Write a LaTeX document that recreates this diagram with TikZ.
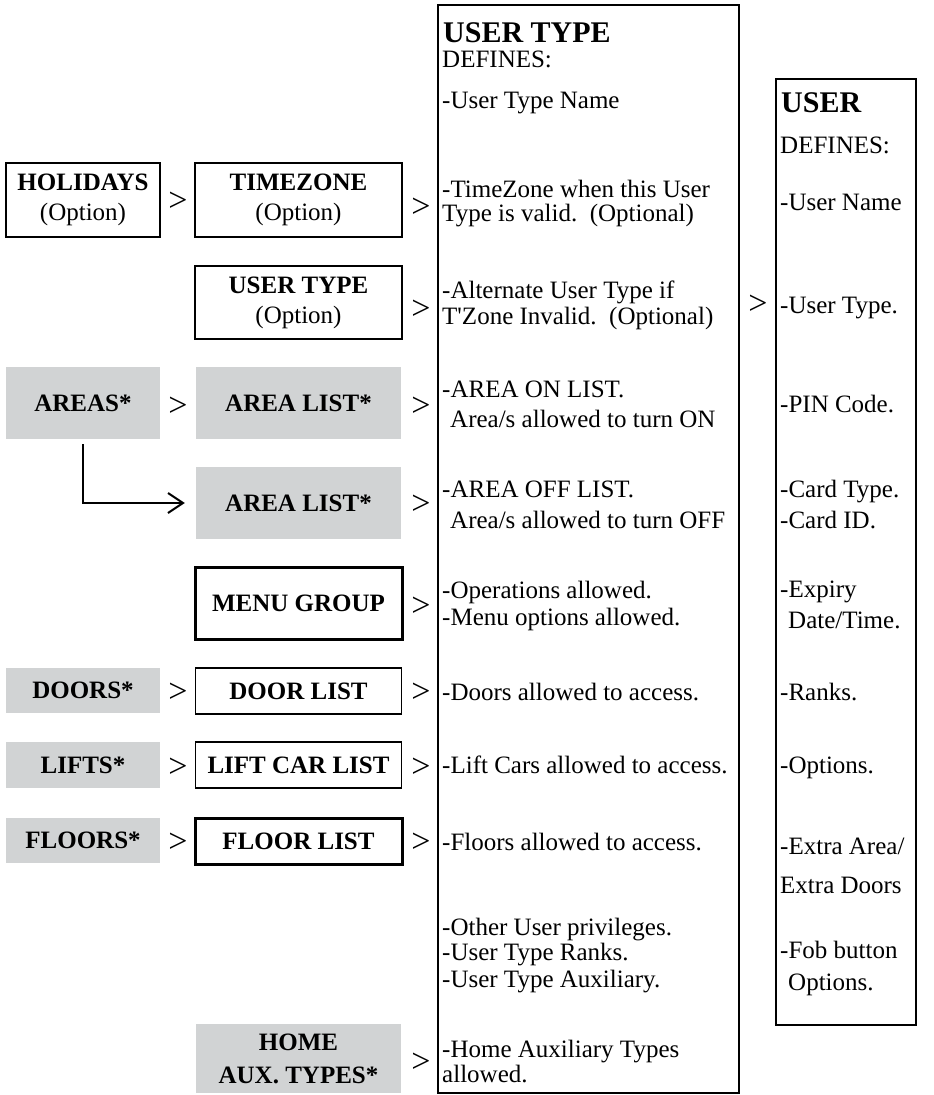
\documentclass[tikz,border=0pt]{standalone}
\usepackage{fontspec}
\setmainfont{Liberation Serif}
\usetikzlibrary{arrows.meta}

\definecolor{boxgray}{RGB}{209,211,212}

\tikzset{
  lbl/.style={font=\fontsize{25}{30}\selectfont\bfseries, align=center, inner sep=0pt},
  optbox/.style={lbl, draw, line width=2.5pt},
  thinbox/.style={lbl, draw, line width=1.6pt},
  thickbox/.style={lbl, draw, line width=3pt},
  graybox/.style={lbl, fill=boxgray},
  bigbox/.style={draw, line width=2.8pt, inner sep=0pt},
  txt/.style={font=\fontsize{25}{27}\selectfont, anchor=base west, inner sep=0pt},
  ttl/.style={font=\fontsize{30}{32}\selectfont\bfseries, anchor=base west, inner sep=0pt},
  gt/.style={font=\fontsize{34}{34}\selectfont, inner sep=0pt}
}

\begin{document}
\begin{tikzpicture}[x=1pt, y=-1pt]
\useasboundingbox (0,0) rectangle (934,1095);

% left column
\draw (83, 200) node[optbox, minimum width=154, minimum height=74] (holidays) {HOLIDAYS\\\mdseries(Option)};
\draw (83, 403) node[graybox, minimum width=154, minimum height=72] (areas) {AREAS*};
\draw (83, 690.5) node[graybox, minimum width=154, minimum height=45] (doors) {DOORS*};
\draw (83, 765) node[graybox, minimum width=154, minimum height=46] (lifts) {LIFTS*};
\draw (83, 840.5) node[graybox, minimum width=154, minimum height=45] (floors) {FLOORS*};

% middle column
\draw (298.5, 200) node[optbox, minimum width=207, minimum height=74] (timezone) {TIMEZONE\\\mdseries(Option)};
\draw (298.5, 302.5) node[optbox, minimum width=207, minimum height=73] (usertypeopt) {USER TYPE\\\mdseries(Option)};
\draw (298.5, 403) node[graybox, minimum width=205, minimum height=72] (arealiston) {AREA LIST*};
\draw (298.5, 503) node[graybox, minimum width=205, minimum height=72] (arealistoff) {AREA LIST*};
\draw (298.5, 603) node[thickbox, minimum width=207, minimum height=72] (menugroup) {MENU GROUP};
\draw (298.5, 691) node[thinbox, minimum width=206, minimum height=46] (doorlist) {DOOR LIST};
\draw (298.5, 765) node[thinbox, minimum width=206, minimum height=46] (liftcarlist) {LIFT CAR LIST};
\draw (298.5, 841) node[thickbox, minimum width=207, minimum height=46] (floorlist) {FLOOR LIST};
\draw (298.5, 1058.5) node[graybox, minimum width=205, minimum height=69, font=\fontsize{25}{33}\selectfont\bfseries] (homeaux) {HOME\\AUX. TYPES*};

% the two big boxes
\draw (588.5, 549) node[bigbox, minimum width=301, minimum height=1088] (usertype) {};
\draw (846, 552) node[bigbox, minimum width=140, minimum height=946] (user) {};

% > signs
\draw (178, 202) node[gt] (g1) {>};
\draw (421, 208) node[gt] (g2) {>};
\draw (421, 310) node[gt] (g3) {>};
\draw (178, 407) node[gt] (g4) {>};
\draw (421, 407) node[gt] (g5) {>};
\draw (421, 505) node[gt] (g6) {>};
\draw (421, 607) node[gt] (g7) {>};
\draw (178, 693) node[gt] (g8) {>};
\draw (421, 693) node[gt] (g9) {>};
\draw (178, 768) node[gt] (g10) {>};
\draw (421, 768) node[gt] (g11) {>};
\draw (178, 843) node[gt] (g12) {>};
\draw (421, 843) node[gt] (g13) {>};
\draw (421, 1063) node[gt] (g14) {>};
\draw (758, 305) node[gt] (g15) {>};

% areas to area off list
\draw[line width=2pt, -{Straight Barb[length=15pt, width=20pt]}, shorten <=5pt, shorten >=11pt]
  (areas.south) |- (arealistoff.west);

% user type text
\draw (443, 42) node[ttl] (uttitle) {USER TYPE};
\draw (442, 67) node[txt] (utdef) {DEFINES:};
\draw (442, 108) node[txt] (ut1) {-User Type Name};
\draw (442, 197) node[txt] (ut2a) {-TimeZone when this User};
\draw (442, 221) node[txt] (ut2b) {Type is valid.\ \ (Optional)};
\draw (442, 298) node[txt] (ut3a) {-Alternate User Type if};
\draw (442, 324) node[txt] (ut3b) {T\textquotesingle Zone Invalid.\ \ (Optional)};
\draw (442, 397) node[txt] (ut4a) {-AREA ON LIST.};
\draw (450, 427) node[txt] (ut4b) {Area/s allowed to turn ON};
\draw (442, 497) node[txt] (ut5a) {-AREA OFF LIST.};
\draw (450, 528) node[txt] (ut5b) {Area/s allowed to turn OFF};
\draw (442, 598) node[txt] (ut6a) {-Operations allowed.};
\draw (442, 625) node[txt] (ut6b) {-Menu options allowed.};
\draw (442, 700) node[txt] (ut7) {-Doors allowed to access.};
\draw (442, 773) node[txt] (ut8) {-Lift Cars allowed to access.};
\draw (442, 850) node[txt] (ut9) {-Floors allowed to access.};
\draw (442, 935) node[txt] (ut10a) {-Other User privileges.};
\draw (442, 960) node[txt] (ut10b) {-User Type Ranks.};
\draw (442, 987) node[txt] (ut10c) {-User Type Auxiliary.};
\draw (442, 1057) node[txt] (ut11a) {-Home Auxiliary Types};
\draw (442, 1082) node[txt] (ut11b) {allowed.};

% user text
\draw (781, 112) node[ttl] (usertitle) {USER};
\draw (780, 153) node[txt] (udef) {DEFINES:};
\draw (780, 210) node[txt] (u1) {-User Name};
\draw (780, 313) node[txt] (u2) {-User Type.};
\draw (780, 412) node[txt] (u3) {-PIN Code.};
\draw (780, 497) node[txt] (u4a) {-Card Type.};
\draw (780, 528) node[txt] (u4b) {-Card ID.};
\draw (780, 597) node[txt] (u5a) {-Expiry};
\draw (788, 628) node[txt] (u5b) {Date/Time.};
\draw (780, 700) node[txt] (u6) {-Ranks.};
\draw (780, 773) node[txt] (u7) {-Options.};
\draw (780, 854) node[txt] (u8a) {-Extra Area/};
\draw (780, 893) node[txt] (u8b) {Extra Doors};
\draw (780, 958) node[txt] (u9a) {-Fob button};
\draw (788, 990) node[txt] (u9b) {Options.};
\end{tikzpicture}
\end{document}
